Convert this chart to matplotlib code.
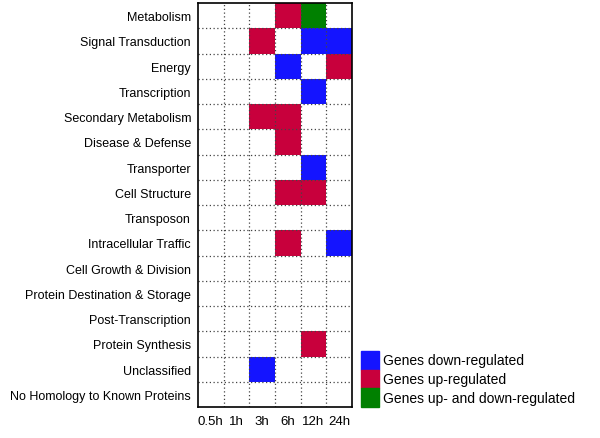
import numpy as np
import matplotlib.pyplot as plt
from matplotlib.colors import ListedColormap
from matplotlib.patches import Rectangle

plt.rcParams['font.family'] = ['Liberation Sans', 'DejaVu Sans']

categories = ['Metabolism', 'Signal Transduction', 'Energy', 'Transcription',
              'Secondary Metabolism', 'Disease & Defense', 'Transporter',
              'Cell Structure', 'Transposon', 'Intracellular Traffic',
              'Cell Growth & Division', 'Protein Destination & Storage',
              'Post-Transcription', 'Protein Synthesis', 'Unclassified',
              'No Homology to Known Proteins']
times = ['0.5h', '1h', '3h', '6h', '12h', '24h']

# 0 = none, 1 = down, 2 = up, 3 = up and down
status = [
    [0, 0, 0, 2, 3, 0],
    [0, 0, 2, 0, 1, 1],
    [0, 0, 0, 1, 0, 2],
    [0, 0, 0, 0, 1, 0],
    [0, 0, 2, 2, 0, 0],
    [0, 0, 0, 2, 0, 0],
    [0, 0, 0, 0, 1, 0],
    [0, 0, 0, 2, 2, 0],
    [0, 0, 0, 0, 0, 0],
    [0, 0, 0, 2, 0, 1],
    [0, 0, 0, 0, 0, 0],
    [0, 0, 0, 0, 0, 0],
    [0, 0, 0, 0, 0, 0],
    [0, 0, 0, 0, 2, 0],
    [0, 0, 1, 0, 0, 0],
    [0, 0, 0, 0, 0, 0],
]
legend_labels = ['Genes down-regulated', 'Genes up-regulated',
                 'Genes up- and down-regulated']
colors = ['white', '#1414ff', '#c8003c', '#008000']

fig = plt.figure(figsize=(6, 4.39), dpi=100)
ax = fig.add_axes([198/600, 1 - 408/439, 154/600, 404/439])

data = np.array(status)
ax.pcolormesh(data, cmap=ListedColormap(colors), vmin=-0.5, vmax=3.5)
ax.set_xlim(0, len(times))
ax.set_ylim(len(categories), 0)

for i in range(1, len(times)):
    ax.axvline(i, color='#444444', lw=0.9, ls=(0, (1, 2)))
for j in range(1, len(categories)):
    ax.axhline(j, color='#444444', lw=0.9, ls=(0, (1, 2)))

ax.set_xticks(np.arange(len(times)) + 0.5)
ax.set_xticklabels(times, fontsize=9.5)
ax.set_yticks(np.arange(len(categories)) + 0.5)
ax.set_yticklabels(categories, fontsize=9)
ax.tick_params(axis='y', length=0, pad=5)
ax.tick_params(axis='x', length=0, pad=6)
for s in ax.spines.values():
    s.set_linewidth(1.2)

# legend boxes
y0 = 352
h = 18.7
for k, lab in enumerate(legend_labels):
    top = y0 + k * h
    fig.patches.append(Rectangle((361/600, 1 - (top + h)/439), 18/600, h/439,
                                 transform=fig.transFigure, color=colors[k + 1]))
    fig.text(383/600, 1 - (top + h/2)/439, lab, fontsize=10, va='center')

fig.savefig('out.png', dpi=100)
